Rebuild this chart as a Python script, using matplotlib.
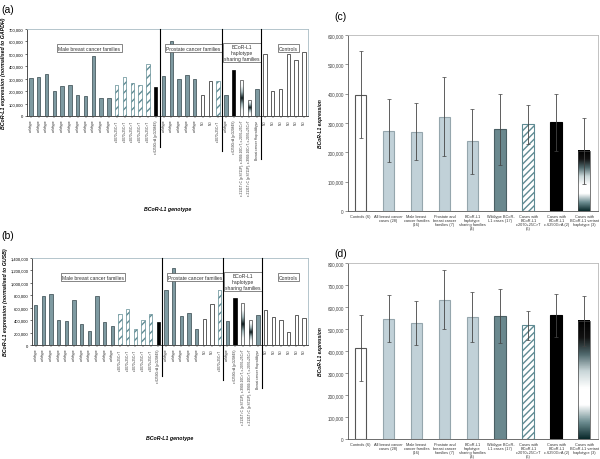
import numpy as np
import matplotlib
matplotlib.use('Agg')
import matplotlib.pyplot as plt
import matplotlib.transforms as mtransforms
from matplotlib.colors import LinearSegmentedColormap

# ---- panel (a)/(b) data: one bar per individual ----
bar_types = (['wt'] * 11 + ['hat'] * 5 + ['blk']
             + ['wt'] * 5 + ['nd', 'nd', 'hat']
             + ['wt', 'blk', 'grad', 'grad', 'wt']
             + ['nd'] * 6)
var1 = 'c.6250G>A (p.G2084S)'
hap = 'c.2131T>C (p.S711P), c.3909-10C>T, c.2070+25C>T'
bar_labels = (['wildtype'] * 11 + ['c.2070+25C>T'] * 5 + [var1]
              + ['wildtype'] * 5 + ['ND', 'ND', 'c.2070+25C>T']
              + ['wildtype', var1, hap, hap, 'Breast cancer Hap wildtype']
              + ['ND'] * 6)
expr_gapdh = [305000, 313000, 340000, 200000, 240000, 246000, 168000, 160000,
              484000, 147000, 142000, 249000, 313000, 267000, 246000, 420000,
              235000,
              324000, 600000, 300000, 332000, 300000, 168000, 283000, 278000,
              168000, 372000, 289000, 131000, 219000,
              500000, 198000, 219000, 500000, 452000, 516000]
expr_b = [641000, 782000, 819000, 399000, 383000, 728000, 334000, 221000,
          792000, 367000, 302000, 501000, 577000, 253000, 399000, 501000,
          367000,
          884000, 1245000, 469000, 523000, 259000, 420000, 668000, 884000,
          394000, 760000, 674000, 404000, 485000,
          560000, 447000, 399000, 205000, 485000, 431000]
groups = ['Male breast cancer families', 'Prostate cancer families',
          'BCoR-L1\nhaplotype\nsharing families', 'Controls']
group_edges = [16.5, 24.5, 29.5]

# ---- panel (c)/(d) data: group means and SD ----
cat_labels = ['Controls (6)', 'All breast cancer\ncases (28)',
              'Male breast\ncancer families\n(16)',
              'Prostate and\nbreast cancer\nfamilies (7)',
              'BCoR-L1\nhaplotype\nsharing families\n(4)',
              'Wildtype BCoR-\nL1 cases (17)',
              'Cases with\nBCoR-L1\nc.2070+25C>T\n(5)',
              'Cases with\nBCoR-L1\nc.6250G>A (2)',
              'Cases with\nBCoR-L1 variant\nhaplotype (3)']
cat_types = ['white', 'light', 'light', 'light', 'light', 'wt', 'hat', 'blk', 'grad2']
mean_c = [396000, 274000, 270000, 322000, 238000, 279000, 295000, 302000, 205000]
err_c = [148000, 107000, 97000, 133000, 111000, 121000, 65000, 97000, 113000]
mean_d = [413000, 546000, 527000, 633000, 554000, 558000, 517000, 561000, 536000]
err_d = [149000, 106000, 99000, 133000, 112000, 123000, 66000, 99000, 114000]

WT = '#7e9aa1'
WT_DARK = '#6a888e'
LIGHT = '#c1d1d8'
HATCH = '#5f8b93'
FRAME = '#a8bcc4'

plt.rcParams['font.family'] = 'Liberation Sans'
plt.rcParams['hatch.linewidth'] = 1.0

# colormaps listed bottom -> top
grad_mid = LinearSegmentedColormap.from_list(
    'gm', ['white', '#f4f7f7', '#9ab0b3', '#0c1a1c', '#9ab0b3', '#f4f7f7', 'white'])
grad_top = LinearSegmentedColormap.from_list(
    'gt', ['#0b2a2c', '#6f8f93', 'white', 'white', '#c9d6d8', '#50696d', '#111', '#000'])


def fmt(v, pos):
    return '{:,.0f}'.format(v)


def gradient_bar(ax, x, w, h, cmap):
    col = np.linspace(0, 1, 200).reshape(-1, 1)
    ax.imshow(col, extent=[x - w / 2, x + w / 2, 0, h], aspect='auto',
              cmap=cmap, origin='lower', zorder=2, interpolation='bilinear')
    ax.bar(x, h, w, facecolor='none', edgecolor='#444', lw=0.5, zorder=3)


def panel_ab(ax, vals, ymax, ystep, ylabel, box_y):
    n = len(vals)
    w = 0.45
    for i, (t, v) in enumerate(zip(bar_types, vals)):
        if t == 'wt':
            ax.bar(i, v, w, color=WT, edgecolor='#34464b', lw=0.5, zorder=2)
        elif t == 'hat':
            ax.bar(i, v, w, color='white', edgecolor=HATCH, hatch='////', lw=0.5, zorder=2)
        elif t == 'blk':
            ax.bar(i, v, w, color='black', edgecolor='black', lw=0.5, zorder=2)
        elif t == 'nd':
            ax.bar(i, v, w, color='white', edgecolor='#444', lw=0.6, zorder=2)
        else:
            gradient_bar(ax, i, w, v, grad_mid)
    ax.set_xlim(-0.5, n - 0.5)
    ax.set_ylim(0, ymax)
    ax.set_yticks(np.arange(0, ymax + 1, ystep))
    ax.yaxis.set_major_formatter(plt.FuncFormatter(fmt))
    ax.tick_params(axis='y', labelsize=3, length=1.5, width=0.4, pad=1)
    ax.set_xticks(range(n))
    ax.set_xticklabels(bar_labels, rotation=90, fontsize=2.3, color='#333')
    ax.tick_params(axis='x', length=1.5, width=0.3, pad=1)
    for s in ['top', 'right']:
        ax.spines[s].set_color(FRAME)
    ax.spines['left'].set_color('#333')
    ax.spines['bottom'].set_color('#333')
    for s in ax.spines.values():
        s.set_linewidth(0.6)
    trans = mtransforms.blended_transform_factory(ax.transData, ax.transAxes)
    downs = [-0.36, -0.40, -0.50]
    for xe, d in zip(group_edges, downs):
        ax.plot([xe, xe], [d, 1], transform=trans, color='black', lw=0.8, clip_on=False, zorder=4)
    centers = [7.5, 20.8, 27.0, 33.0]
    for c, g in zip(centers, groups):
        ax.text(c, box_y if '\n' not in g else box_y - 0.05, g, transform=trans,
                ha='center', va='center', fontsize=3.6, color='#333',
                linespacing=1.2,
                bbox=dict(boxstyle='square,pad=0.25', fc='white', ec='#555', lw=0.5))
    ax.set_ylabel(ylabel, fontsize=3.8, fontweight='bold', fontstyle='italic', labelpad=2)
    ax.text(0.5, -1.06, 'BCoR-L1 genotype', transform=ax.transAxes, ha='center',
            va='center', fontsize=3.8, fontweight='bold', fontstyle='italic')


def panel_cd(ax, means, errs, ymax):
    n = len(means)
    w = 0.42
    for i, (t, m, e) in enumerate(zip(cat_types, means, errs)):
        if t == 'white':
            ax.bar(i, m, w, color='white', edgecolor='#555', lw=0.8, zorder=2)
        elif t == 'light':
            ax.bar(i, m, w, color=LIGHT, edgecolor='#95a6ad', lw=0.8, zorder=2)
        elif t == 'wt':
            ax.bar(i, m, w, color=WT_DARK, edgecolor='#4a5f64', lw=0.8, zorder=2)
        elif t == 'hat':
            ax.bar(i, m, w, color='white', edgecolor=HATCH, hatch='/////', lw=0.8, zorder=2)
        elif t == 'blk':
            ax.bar(i, m, w, color='black', edgecolor='black', lw=0.8, zorder=2)
        else:
            gradient_bar(ax, i, w, m, grad_top)
    ax.errorbar(range(n), means, yerr=errs, fmt='none', ecolor='#444',
                elinewidth=0.6, capsize=1.5, capthick=0.5, zorder=5)
    ax.set_xlim(-0.45, n - 0.5)
    ax.set_ylim(0, ymax)
    ax.set_yticks(np.arange(0, ymax + 1, 100000))
    ax.yaxis.set_major_formatter(plt.FuncFormatter(fmt))
    ax.tick_params(axis='y', labelsize=3.3, length=2, width=0.4, pad=1, colors='#444')
    ax.set_xticks(range(n))
    ax.set_xticklabels(cat_labels, fontsize=2.8, linespacing=1.05, color='#333')
    ax.tick_params(axis='x', length=0, pad=2)
    for s in ['top', 'right']:
        ax.spines[s].set_color('#b8b8b8')
    ax.spines['left'].set_color('#555')
    ax.spines['bottom'].set_color('#555')
    for s in ax.spines.values():
        s.set_linewidth(0.6)
    ax.set_ylabel('BCoR-L1 expression', fontsize=3.6, fontweight='bold',
                  fontstyle='italic', labelpad=3)


fig = plt.figure(figsize=(6, 4.6), dpi=100)
ax_a = fig.add_axes([0.045, 0.7457, 0.468, 0.189])
ax_b = fig.add_axes([0.053, 0.2478, 0.460, 0.189])
ax_c = fig.add_axes([0.580, 0.539, 0.417, 0.383])
ax_d = fig.add_axes([0.580, 0.0435, 0.417, 0.383])

panel_ab(ax_a, expr_gapdh, 700000, 100000,
         'BCoR-L1 expression (normalised to GAPDH)', 0.78)
panel_ab(ax_b, expr_b, 1400000, 200000,
         'BCoR-L1 expression (normalised to GUSB)', 0.78)
panel_cd(ax_c, mean_c, err_c, 600000)
panel_cd(ax_d, mean_d, err_d, 800000)

fig.text(0.003, 0.978, '(a)', fontsize=7.5, va='center')
fig.text(0.003, 0.487, '(b)', fontsize=7.5, va='center')
fig.text(0.558, 0.963, '(c)', fontsize=7.5, va='center')
fig.text(0.558, 0.447, '(d)', fontsize=7.5, va='center')

fig.savefig('out.png', dpi=100)
